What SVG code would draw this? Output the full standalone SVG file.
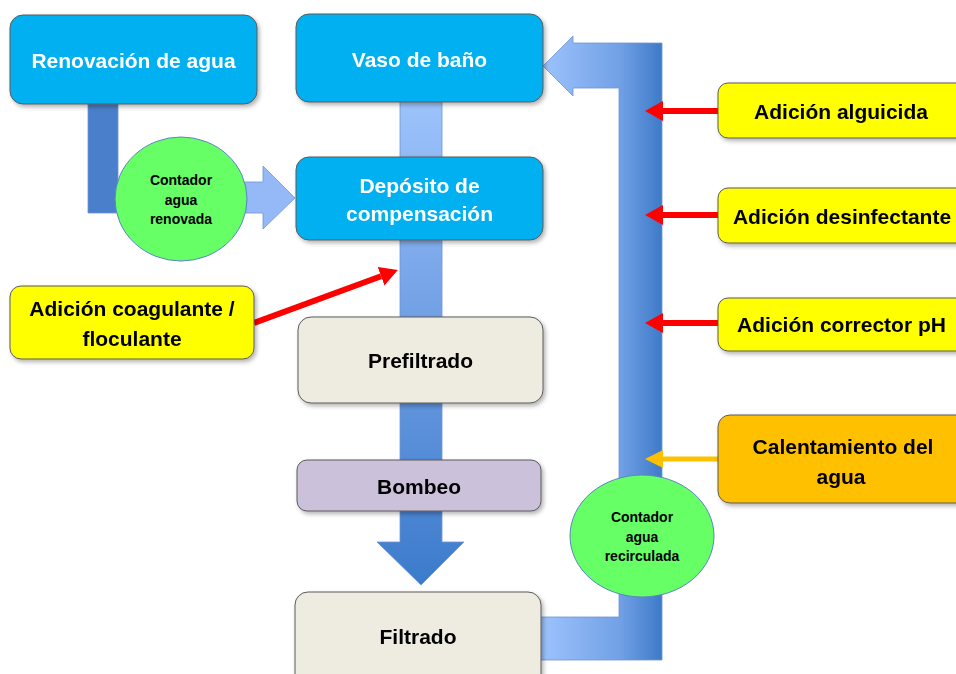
<svg xmlns="http://www.w3.org/2000/svg" width="956" height="674" viewBox="0 0 956 674">
<style>
  .lbl{font-family:"Liberation Sans","Noto Sans",Arial,sans-serif;font-weight:bold;font-size:21px;text-anchor:middle;dominant-baseline:central}
  .w{fill:#ffffff}
  .k{fill:#000000}
  .sm{font-size:14px}
  .box{stroke:#5a5a5a;stroke-width:1}
  .blue{fill:#00B0F0}
  .yel{fill:#FFFF00}
  .org{fill:#FFC000}
  .beige{fill:#EEECE1}
  .lav{fill:#CCC1DA}
  .circ{fill:#66FF66;stroke:#5B84C4;stroke-width:1}
  .pipe{stroke:#6E96D6;stroke-width:0.8}
</style>
<defs>
  <filter id="sh" x="-10%" y="-10%" width="130%" height="140%">
    <feDropShadow dx="2" dy="2.5" stdDeviation="2" flood-color="#000" flood-opacity="0.3"/>
  </filter>
  <linearGradient id="gCenter" gradientUnits="userSpaceOnUse" x1="0" y1="100" x2="0" y2="585">
    <stop offset="0" stop-color="#9DC3FB"/>
    <stop offset="0.5" stop-color="#6C9CE2"/>
    <stop offset="1" stop-color="#3C7BCB"/>
  </linearGradient>
  <linearGradient id="gRight" gradientUnits="userSpaceOnUse" x1="543" y1="0" x2="662" y2="0">
    <stop offset="0" stop-color="#9CC2FC"/>
    <stop offset="0.64" stop-color="#72A1E6"/>
    <stop offset="1" stop-color="#3E7AC8"/>
  </linearGradient>
  <linearGradient id="gLeft" gradientUnits="userSpaceOnUse" x1="88" y1="0" x2="295" y2="0">
    <stop offset="0" stop-color="#4A7FCB"/>
    <stop offset="0.2" stop-color="#4A7FCB"/>
    <stop offset="0.78" stop-color="#95B9F7"/>
    <stop offset="1" stop-color="#95B9F7"/>
  </linearGradient>
  <marker id="ahR" markerUnits="userSpaceOnUse" markerWidth="18" markerHeight="20" refX="0" refY="10" orient="auto">
    <path d="M0,0 L18,10 L0,20 Z" fill="#FF0000"/>
  </marker>
  <marker id="ahO" markerUnits="userSpaceOnUse" markerWidth="18" markerHeight="20" refX="0" refY="10" orient="auto">
    <path d="M0,1 L18,10 L0,19 Z" fill="#FFC000"/>
  </marker>
</defs>

<g id="connectors">
  <path class="pipe" fill="url(#gCenter)" d="M400 100 L442 100 L442 542 L464 542 L421 585 L377 542 L400 542 Z"/>
  <path class="pipe" fill="url(#gRight)" d="M530 617 L619 617 L619 88 L573 88 L573 96 L543 66 L573 36 L573 43 L662 43 L662 660 L530 660 Z"/>
  <path class="pipe" fill="url(#gLeft)" d="M88 104 L118 104 L118 182 L263 182 L263 166 L295 198 L263 229 L263 213 L88 213 Z"/>
  <line x1="718" y1="111" x2="663" y2="111" stroke="#FF0000" stroke-width="6" marker-end="url(#ahR)"/>
  <line x1="718" y1="215" x2="663" y2="215" stroke="#FF0000" stroke-width="6" marker-end="url(#ahR)"/>
  <line x1="718" y1="323" x2="663" y2="323" stroke="#FF0000" stroke-width="6" marker-end="url(#ahR)"/>
  <line x1="718" y1="459" x2="663" y2="459" stroke="#FFC000" stroke-width="5" marker-end="url(#ahO)"/>
  <line x1="254" y1="323" x2="381" y2="276.2" stroke="#FF0000" stroke-width="6" marker-end="url(#ahR)"/>
</g>

<g id="renovacion" filter="url(#sh)">
  <rect class="box blue" x="10" y="15" width="247" height="89" rx="13"/>
  <text class="lbl w" x="133.5" y="60">Renovación de agua</text>
</g>
<g id="vaso" filter="url(#sh)">
  <rect class="box blue" x="296" y="14" width="247" height="88" rx="13"/>
  <text class="lbl w" x="419.5" y="59">Vaso de baño</text>
</g>
<g id="deposito" filter="url(#sh)">
  <rect class="box blue" x="296" y="157" width="247" height="83" rx="13"/>
  <text class="lbl w" x="419.5" y="185">Depósito de</text>
  <text class="lbl w" x="419.5" y="213">compensación</text>
</g>
<g id="prefiltrado" filter="url(#sh)">
  <rect class="box beige" x="298" y="317" width="245" height="86" rx="13"/>
  <text class="lbl k" x="420.5" y="360">Prefiltrado</text>
</g>
<g id="bombeo" filter="url(#sh)">
  <rect class="box lav" x="297" y="460" width="244" height="51" rx="10"/>
  <text class="lbl k" x="419" y="486">Bombeo</text>
</g>
<g id="filtrado" filter="url(#sh)">
  <rect class="box beige" x="295" y="592" width="246" height="100" rx="13"/>
  <text class="lbl k" x="418" y="636">Filtrado</text>
</g>
<g id="contador-renovada">
  <ellipse class="circ" cx="181" cy="199" rx="66" ry="62"/>
  <text class="lbl k sm" x="181" y="180">Contador</text>
  <text class="lbl k sm" x="181" y="199.5">agua</text>
  <text class="lbl k sm" x="181" y="219">renovada</text>
</g>
<g id="contador-recirculada">
  <ellipse class="circ" cx="642" cy="536" rx="72" ry="61"/>
  <text class="lbl k sm" x="642" y="517">Contador</text>
  <text class="lbl k sm" x="642" y="537">agua</text>
  <text class="lbl k sm" x="642" y="556">recirculada</text>
</g>
<g id="coagulante" filter="url(#sh)">
  <rect class="box yel" x="10" y="286" width="244" height="73" rx="11"/>
  <text class="lbl k" x="132" y="308">Adición coagulante /</text>
  <text class="lbl k" x="132" y="338">floculante</text>
</g>
<g id="alguicida" filter="url(#sh)">
  <rect class="box yel" x="718" y="83" width="260" height="55" rx="10"/>
  <text class="lbl k" x="841" y="111">Adición alguicida</text>
</g>
<g id="desinfectante" filter="url(#sh)">
  <rect class="box yel" x="718" y="188" width="260" height="55" rx="10"/>
  <text class="lbl k" x="842" y="216">Adición desinfectante</text>
</g>
<g id="corrector" filter="url(#sh)">
  <rect class="box yel" x="718" y="298" width="260" height="53" rx="10"/>
  <text class="lbl k" x="841.5" y="324">Adición corrector pH</text>
</g>
<g id="calentamiento" filter="url(#sh)">
  <rect class="box org" x="718" y="415" width="260" height="88" rx="12"/>
  <text class="lbl k" x="843" y="446">Calentamiento del</text>
  <text class="lbl k" x="841" y="476">agua</text>
</g>
</svg>
